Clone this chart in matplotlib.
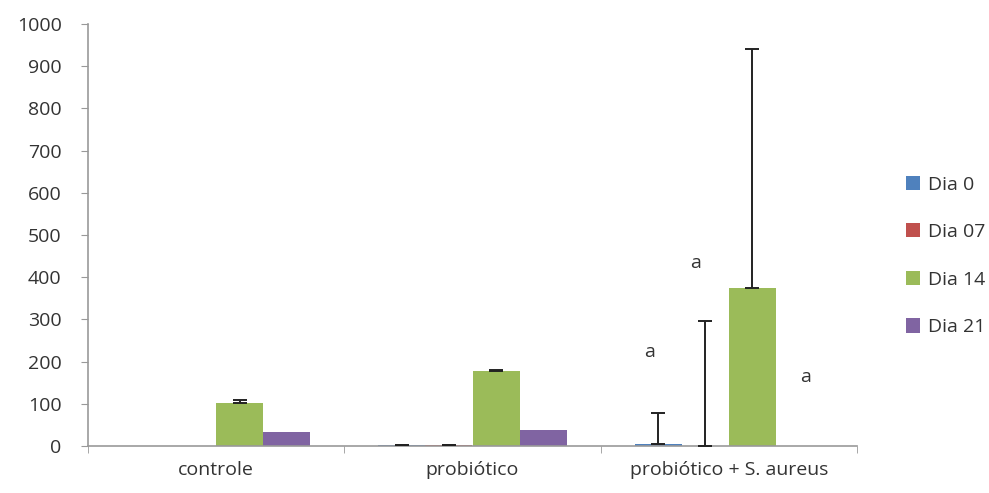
import numpy as np
import matplotlib.pyplot as plt

plt.rcParams['font.family'] = ['Open Sans', 'DejaVu Sans']

groups = ['controle', 'probiótico', 'probiótico + S. aureus']
series = ['Dia 0', 'Dia 07', 'Dia 14', 'Dia 21']
colors = ['#4F81BD', '#C0504D', '#9BBB59', '#8064A2']

# values per series (controle, probiotico, probiotico + S. aureus)
values = {
    'Dia 0': [0, 2, 4],
    'Dia 07': [0, 2, 0],
    'Dia 14': [102, 178, 374],
    'Dia 21': [33, 37, 0],
}
errors = {
    'Dia 0': [0, 1, 75],
    'Dia 07': [0, 1, 297],
    'Dia 14': [8, 3, 567],
    'Dia 21': [0, 0, 0],
}
has_err = {
    'Dia 0': [False, True, True],
    'Dia 07': [False, True, True],
    'Dia 14': [True, True, True],
    'Dia 21': [False, False, False],
}

# significance letters: (x position in group units, y value)
letters = ['a', 'a', 'a']
letter_x = [1.69, 1.87, 2.30]
letter_y = [222, 434, 163]

fig = plt.figure(figsize=(9.89, 4.93), dpi=100)
ax = fig.add_axes([88 / 989, 1 - 446 / 493, (857 - 88) / 989, (446 - 24) / 493])

x = np.arange(len(groups))
w = 0.184
for i, s in enumerate(series):
    pos = x + (i - 1.5) * w
    ax.bar(pos, values[s], width=w, color=colors[i], label=s, zorder=2)
    for p, v, e, h in zip(pos, values[s], errors[s], has_err[s]):
        if h:
            ax.errorbar(p, v, yerr=[[0], [e]], fmt='none', ecolor='#222222',
                        elinewidth=1.4, capsize=5, capthick=1.4, zorder=3)

for t, lx, ly in zip(letters, letter_x, letter_y):
    ax.text(lx, ly, t, ha='center', va='center', fontsize=14, color='#333333')

ax.set_xlim(-0.5, 2.5)
ax.set_ylim(0, 1000)
ax.set_yticks(range(0, 1001, 100))
ax.set_xticks(x)
ax.set_xticklabels(groups)
ax.set_xticks([-0.5, 0.5, 1.5, 2.5], minor=True)
ax.tick_params(axis='x', which='major', length=0, pad=11, labelsize=14, colors='#333333')
ax.tick_params(axis='x', which='minor', length=5, color='#999999', direction='out')
ax.tick_params(axis='y', length=5, color='#999999', labelsize=14, labelcolor='#333333', pad=14)

for side in ['top', 'right']:
    ax.spines[side].set_visible(False)
for side in ['left', 'bottom']:
    ax.spines[side].set_color('#999999')
    ax.spines[side].set_linewidth(1.2)

leg = fig.legend(loc='upper left', bbox_to_anchor=(888 / 989, 1 - 158 / 493), frameon=False,
                 fontsize=14, handlelength=0.75, handleheight=0.75, handletextpad=0.4,
                 labelspacing=1.52)
for txt in leg.get_texts():
    txt.set_color('#333333')

fig.savefig('out.png', dpi=100)
